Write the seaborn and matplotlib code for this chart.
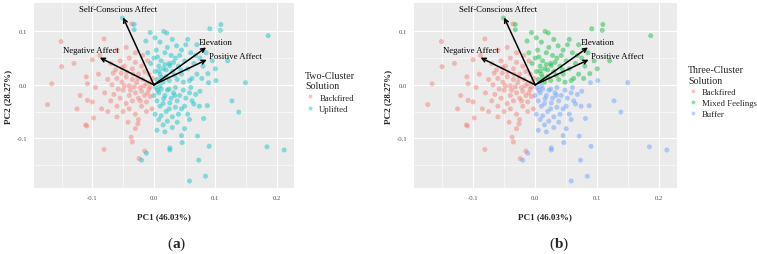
import numpy as np
import pandas as pd
import matplotlib
matplotlib.use("Agg")
import matplotlib.pyplot as plt
from matplotlib.lines import Line2D
import seaborn as sns

# PCA scores (PC1, PC2), grouped by three-cluster solution
backfired_pts = [
    (-0.173, -0.037), (-0.166, 0.002), (-0.151, 0.081), (-0.150, 0.034), (-0.108, 0.002),
    (-0.100, 0.047), (-0.081, 0.086), (-0.109, -0.077), (-0.098, -0.062), (-0.081, -0.121),
    (-0.035, -0.107), (-0.108, -0.029), (-0.100, -0.032), (-0.036, 0.114), (-0.053, 0.022),
    (-0.030, -0.082), (-0.042, -0.070), (-0.026, -0.073), (-0.015, -0.124), (-0.024, -0.138),
    (-0.111, -0.075), (-0.037, -0.098),
    (-0.070, 0.040), (-0.062, 0.028), (-0.055, 0.045), (-0.048, 0.035), (-0.040, 0.050),
    (-0.035, 0.030), (-0.030, 0.042), (-0.025, 0.020), (-0.020, 0.035), (-0.015, 0.025),
    (-0.075, 0.010), (-0.068, 0.000), (-0.060, 0.012), (-0.052, 0.005), (-0.045, 0.015),
    (-0.040, -0.002), (-0.035, 0.010), (-0.028, 0.004), (-0.022, -0.005), (-0.018, 0.010),
    (-0.012, 0.002), (-0.008, -0.008), (-0.005, 0.005), (-0.010, -0.015), (-0.015, -0.020),
    (-0.020, -0.012), (-0.025, -0.025), (-0.030, -0.015), (-0.035, -0.030), (-0.040, -0.020),
    (-0.045, -0.035), (-0.050, -0.010), (-0.055, -0.025), (-0.060, -0.040), (-0.065, -0.018),
    (-0.070, -0.030), (-0.080, -0.015), (-0.085, -0.045), (-0.090, 0.020), (-0.095, -0.005),
    (-0.050, -0.050), (-0.040, -0.045), (-0.030, -0.055), (-0.020, -0.040), (-0.012, -0.032),
    (-0.006, -0.022), (-0.003, -0.045), (-0.025, -0.065), (-0.060, -0.060), (-0.075, -0.050),
    (-0.110, 0.015), (-0.120, -0.020), (-0.130, 0.040), (-0.125, -0.045), (-0.088, 0.055),
    (-0.060, 0.065), (-0.045, 0.070), (-0.030, 0.060), (-0.018, 0.055), (-0.010, 0.045),
    (-0.008, 0.020), (-0.002, 0.012), (-0.032, -0.004), (-0.048, -0.002), (-0.012, -0.050),
    (-0.044, 0.024), (-0.058, -0.008), (-0.016, -0.002), (-0.026, 0.012), (-0.038, -0.010),
    (-0.022, -0.030), (-0.066, 0.022), (-0.006, -0.004), (-0.034, 0.020), (-0.052, 0.032),
]
mixed_pts = [
    (0.109, 0.113), (0.091, 0.105), (0.108, 0.102), (0.186, 0.092), (0.055, 0.085),
    (0.088, 0.021), (0.037, 0.073), (-0.051, 0.125), (-0.032, 0.113), (-0.032, 0.103),
    (-0.013, 0.082), (-0.006, 0.098), (0.021, 0.097),
    (0.005, 0.010), (0.010, 0.020), (0.015, 0.030), (0.020, 0.015), (0.025, 0.040),
    (0.030, 0.025), (0.035, 0.050), (0.040, 0.035), (0.045, 0.020), (0.050, 0.045),
    (0.055, 0.030), (0.060, 0.060), (0.065, 0.040), (0.070, 0.020), (0.075, 0.050),
    (0.080, 0.035), (0.012, 0.045), (0.018, 0.060), (0.022, 0.070), (0.028, 0.055),
    (0.008, 0.035), (0.002, 0.025), (0.000, 0.050), (0.004, 0.065), (-0.005, 0.040),
    (-0.010, 0.060), (0.010, 0.080), (0.030, 0.085), (0.045, 0.065), (0.052, 0.075),
    (0.062, 0.012), (0.068, 0.055), (0.085, 0.060), (0.095, 0.045), (0.038, 0.010),
    (0.048, 0.005), (0.058, 0.008), (0.015, 0.005), (0.025, 0.008), (0.032, 0.042),
    (0.042, 0.055), (0.020, 0.028), (0.006, 0.052), (0.070, 0.075), (0.078, 0.012),
    (0.100, 0.030), (0.120, 0.045), (0.002, 0.088), (0.016, 0.100), (0.026, 0.036),
    (0.012, 0.014), (0.034, 0.018), (0.008, 0.026), (0.018, 0.038), (0.044, 0.028),
]
buffer_pts = [
    (0.127, -0.030), (0.138, -0.051), (0.184, -0.116), (0.212, -0.122), (0.090, -0.115),
    (0.073, -0.141), (0.084, -0.171), (0.058, -0.180), (0.071, -0.096), (0.046, -0.108),
    (0.026, -0.118), (0.026, -0.122), (0.081, -0.063), (0.065, -0.036), (0.074, -0.040),
    (0.087, -0.039), (0.058, -0.065), (0.050, -0.082), (-0.012, -0.128), (-0.020, -0.141),
    (0.089, 0.004), (0.149, 0.004), (0.101, 0.008),
    (0.003, -0.005), (0.008, -0.015), (0.012, -0.008), (0.018, -0.020), (0.022, -0.010),
    (0.028, -0.025), (0.032, -0.015), (0.038, -0.030), (0.042, -0.020), (0.048, -0.010),
    (0.052, -0.025), (0.058, -0.015), (0.062, -0.030), (0.005, -0.030), (0.010, -0.040),
    (0.015, -0.035), (0.020, -0.050), (0.025, -0.045), (0.030, -0.060), (0.035, -0.042),
    (0.040, -0.055), (0.045, -0.045), (0.002, -0.055), (0.008, -0.065), (0.015, -0.075),
    (0.022, -0.068), (0.030, -0.080), (0.038, -0.070), (0.055, -0.055), (0.060, -0.005),
    (0.068, -0.018), (0.075, -0.012), (0.000, -0.020), (0.012, -0.058), (0.035, -0.005),
    (0.018, -0.088), (0.045, -0.095), (0.005, -0.085), (0.025, -0.008), (0.050, -0.040),
    (0.006, -0.010), (0.016, -0.026), (0.026, -0.034), (0.010, -0.002), (0.034, -0.020),
]

# loadings (arrow tips) and label positions
load_names = ["Self-Conscious Affect", "Negative Affect", "Elevation", "Positive Affect"]
load_pc1 = [-0.050, -0.088, 0.085, 0.086]
load_pc2 = [0.126, 0.051, 0.070, 0.047]
label_pc1 = [-0.059, -0.103, 0.101, 0.133]
label_pc2 = [0.141, 0.065, 0.080, 0.054]

clusters2 = ["Backfired", "Uplifted"]
clusters3 = ["Backfired", "Mixed Feelings", "Buffer"]
colors2 = ["#F8766D", "#00BFC4"]
colors3 = ["#F8766D", "#00BA38", "#619CFF"]

rows = []
for name, pts in zip(clusters3, [backfired_pts, mixed_pts, buffer_pts]):
    for x, y in pts:
        rows.append({"pc1": x, "pc2": y, "three": name,
                     "two": "Backfired" if name == "Backfired" else "Uplifted"})
df = pd.DataFrame(rows)

sns.set_theme(style="darkgrid", rc={"axes.facecolor": "#EBEBEB", "grid.color": "white"})
plt.rcParams["font.family"] = ["Liberation Serif", "DejaVu Serif"]
plt.rcParams["mathtext.fontset"] = "custom"
plt.rcParams["mathtext.rm"] = "Liberation Serif"
plt.rcParams["mathtext.bf"] = "Liberation Serif:bold"

fig = plt.figure(figsize=(7.57, 2.55), dpi=100)
ax_a = fig.add_axes([0.0449, 0.259, 0.3435, 0.725])
ax_b = fig.add_axes([0.547, 0.259, 0.347, 0.725])


def panel(ax, hue, order, cols, title, tag):
    sns.scatterplot(data=df, x="pc1", y="pc2", hue=hue, hue_order=order,
                    palette=cols, s=13, alpha=0.45, linewidth=0, legend=False, ax=ax)
    for i in range(len(load_names)):
        ax.annotate("", xy=(load_pc1[i], load_pc2[i]), xytext=(0, 0),
                    arrowprops=dict(arrowstyle="->", color="black", lw=1.1,
                                    mutation_scale=7, shrinkA=0, shrinkB=0))
        ax.text(label_pc1[i], label_pc2[i], load_names[i], fontsize=6.3,
                ha="center", va="center", color="black")
    ax.set_xlim(-0.195, 0.228)
    ax.set_ylim(-0.193, 0.153)
    ax.set_xticks([-0.1, 0.0, 0.1, 0.2])
    ax.set_xticklabels(["-0.1", "0.0", "0.1", "0.2"])
    ax.set_yticks([-0.1, 0.0, 0.1])
    ax.set_yticklabels(["-0.1", "0.0", "0.1"])
    ax.set_xticks([-0.15, -0.05, 0.05, 0.15], minor=True)
    ax.set_yticks([-0.15, -0.05, 0.05], minor=True)
    ax.grid(which="major", color="white", lw=0.8)
    ax.grid(which="minor", color="white", lw=0.4)
    ax.tick_params(which="major", length=2, width=0.5, color="#333333",
                   labelsize=4.8, labelcolor="#4D4D4D", pad=3)
    ax.tick_params(which="minor", length=0)
    for s in ax.spines.values():
        s.set_visible(False)
    ax.set_xlabel("PC1 (46.03%)", fontsize=6.5, fontweight="bold", labelpad=9)
    ax.set_ylabel("PC2 (28.27%)", fontsize=6.5, fontweight="bold", labelpad=3)
    handles = [Line2D([], [], marker="o", ls="", markersize=2.8, markeredgewidth=0,
                      markerfacecolor=c, alpha=0.45) for c in cols]
    ax.legend(handles, order, title=title, loc="center left",
              bbox_to_anchor=(1.03, 0.52), frameon=False, fontsize=6.3,
              title_fontsize=7.2, alignment="left", handlelength=1.0,
              handletextpad=0.6, labelspacing=0.35, borderaxespad=0)
    ax.text(0.55, -0.3, "(" + r"$\mathbf{" + tag + "}$" + ")", transform=ax.transAxes,
            fontsize=11, ha="center", va="center")


panel(ax_a, "two", clusters2, colors2, "Two-Cluster\nSolution", "a")
panel(ax_b, "three", clusters3, colors3, "Three-Cluster\nSolution", "b")

fig.savefig("out.png", dpi=100)
